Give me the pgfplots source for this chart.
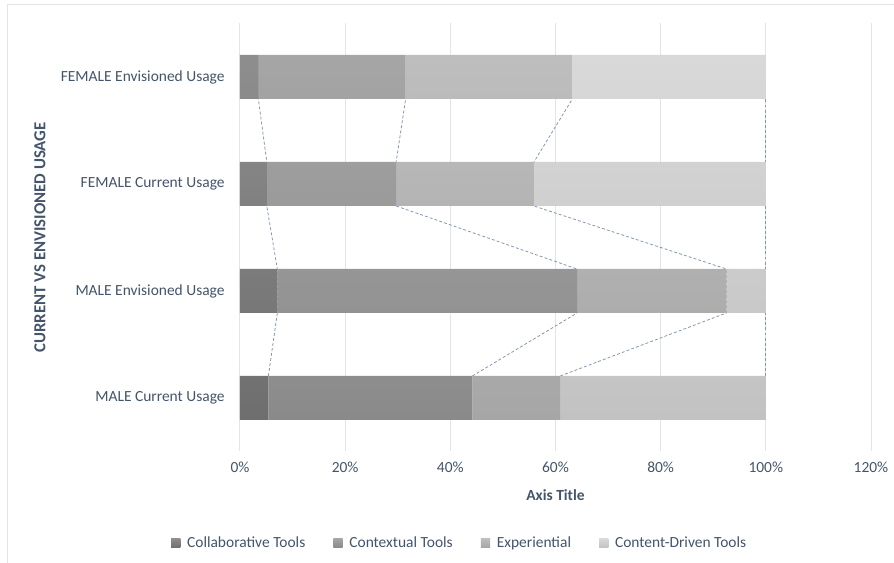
\documentclass[border=0pt]{standalone}
\usepackage{pgfplots}
\pgfplotsset{compat=1.18}
\usepackage{fontspec}
\setmainfont{Carlito}
\definecolor{txt}{HTML}{44546A}
\definecolor{gridc}{HTML}{E1E4EA}
\definecolor{slc}{HTML}{8497B0}
\definecolor{aT}{HTML}{8E8E8E}\definecolor{aB}{HTML}{6E6E6E}
\definecolor{bT}{HTML}{A6A6A6}\definecolor{bB}{HTML}{8A8A8A}
\definecolor{cT}{HTML}{BEBEBE}\definecolor{cB}{HTML}{A6A6A6}
\definecolor{dT}{HTML}{D9D9D9}\definecolor{dB}{HTML}{C2C2C2}
\pgfplotsset{
  common/.style={scale only axis, width=473.25pt, height=321pt,
    xmin=0, xmax=120, ymin=-0.5, ymax=3.5,
    xtick={0,20,...,120}, ytick={0,1,2,3},
    axis line style={draw=none}, major tick length=0pt},
  sline/.style={color=slc, line width=0.6pt, dash pattern=on 2.2pt off 1.6pt, no marks}
}
\begin{document}
\begin{tikzpicture}
\path[use as bounding box] (-180pt,-83.625pt) rectangle (490.5pt,338.625pt);
\draw[color=gridc, line width=0.75pt] (-174pt,-83.625pt) -- (-174pt,334.875pt) -- (490.5pt,334.875pt);
% grid and series lines
\begin{axis}[common, xticklabels={}, yticklabels={},
  xmajorgrids, grid style={color=gridc, line width=0.75pt}]
\addplot[sline] coordinates {(5.4,0.2056) (7.1,0.7944) (7.1,1.2056) (5.1,1.7944) (5.1,2.2056) (3.5,2.7944)};
\addplot[sline] coordinates {(44.2,0.2056) (64.1,0.7944) (64.1,1.2056) (29.7,1.7944) (29.7,2.2056) (31.5,2.7944)};
\addplot[sline] coordinates {(60.9,0.2056) (92.5,0.7944) (92.5,1.2056) (55.9,1.7944) (55.9,2.2056) (63.2,2.7944)};
\addplot[sline] coordinates {(100,0.2056) (100,0.7944) (100,1.2056) (100,1.7944) (100,2.2056) (100,2.7944)};
\end{axis}
% bars
\begin{axis}[common, xbar stacked, bar width=33pt,
  font=\fontsize{11.6pt}{14pt}\selectfont,
  /pgf/number format/assume math mode=true,
  ticklabel style={text=txt},
  xticklabel={\pgfmathprintnumber{\tick}\%},
  xticklabel style={yshift=-4pt},
  yticklabels={MALE Current Usage, MALE Envisioned Usage, FEMALE Current Usage, FEMALE Envisioned Usage},
  yticklabel style={xshift=-8pt},
  xlabel={\textbf{Axis Title}},
  xlabel style={at={(axis description cs:0.5,-0.1016)}, anchor=center, text=txt},
  ylabel={\textbf{CURRENT VS ENVISIONED USAGE}},
  ylabel style={at={(axis description cs:-0.317,0.5)}, anchor=center, rotate=0, text=txt,
    font=\fontsize{12.6pt}{15pt}\selectfont},
  legend columns=4,
  legend style={at={(axis description cs:0.3487,-0.2138)}, anchor=center, draw=none, fill=none,
    text=txt, font=\fontsize{11.6pt}{14pt}\selectfont,
    /tikz/every odd column/.append style={column sep=3pt},
    /tikz/every even column/.append style={column sep=19pt}},
  legend image code/.code={\path[#1] (0pt,-3.5pt) rectangle (7pt,3.5pt);},
]
\addplot[draw=none, top color=aT, bottom color=aB] coordinates {(5.4,0) (7.1,1) (5.1,2) (3.5,3)};
\addplot[draw=none, top color=bT, bottom color=bB] coordinates {(38.8,0) (57.0,1) (24.6,2) (28.0,3)};
\addplot[draw=none, top color=cT, bottom color=cB] coordinates {(16.7,0) (28.4,1) (26.2,2) (31.7,3)};
\addplot[draw=none, top color=dT, bottom color=dB] coordinates {(39.1,0) (7.5,1) (44.1,2) (36.8,3)};
\legend{Collaborative Tools, Contextual Tools, Experiential, Content-Driven Tools}
\end{axis}
\end{tikzpicture}
\end{document}
